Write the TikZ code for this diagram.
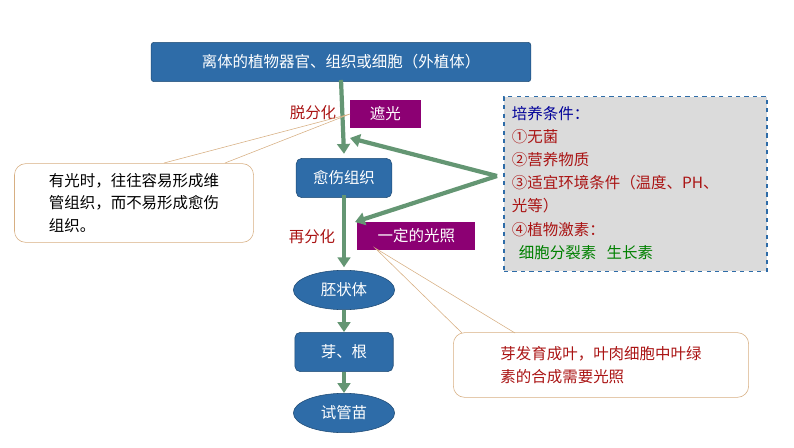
\documentclass[tikz,border=0pt]{standalone}
\usepackage{fontspec}
\setmainfont{Noto Sans CJK SC}
\usetikzlibrary{positioning,shapes,arrows.meta}
\definecolor{boxblue}{RGB}{46,108,168}
\definecolor{darkred}{RGB}{170,20,20}
\definecolor{flowgreen}{RGB}{100,150,115}
\definecolor{tipline}{RGB}{215,175,130}
\tikzset{
	every node/.style={font=\fontsize{11}{16}\selectfont},
	bluebox/.style={draw=boxblue!70!black,fill=boxblue,text=white,rounded corners=4pt,minimum height=28pt},
	blueoval/.style={ellipse,draw=boxblue!70!black,fill=boxblue,text=white,minimum width=72pt,minimum height=28pt},
	purplebox/.style={fill=violet!80!purple,text=white,anchor=west,minimum height=20pt,inner xsep=6pt},
	flow/.style={draw=flowgreen,line width=3pt,-{Triangle[length=7pt,width=9pt]}},
	callout/.style={draw=tipline,fill=white,rounded corners=8pt,align=left,inner sep=6pt},
}
\begin{document}
\begin{tikzpicture}[x=0.025cm,y=-0.025cm]
	\useasboundingbox (0,0) rectangle (794,447);

	% main chain..................
	\node [bluebox,minimum width=270pt,rounded corners=2pt] (top) at (341,62) {离体的植物器官、组织或细胞（外植体）};
	\node [bluebox,minimum width=68pt] (callus) at (344,178) {愈伤组织};
	\node [blueoval] (embryo) at (344,290) {胚状体};
	\node [bluebox,minimum width=70pt] (buds) at (344,352) {芽、根};
	\node [blueoval] (plantlet) at (344,413) {试管苗};

	\draw [flow] (top.south) ++(0,-2) -- ([yshift=3pt]callus.north);
	\draw [flow] (callus.south) ++(0,-3) -- ([yshift=2pt]embryo.north);
	\draw [flow] (embryo.south) -- (buds.north);
	\draw [flow] (buds.south) -- (plantlet.north);

	% labels..............................
	\node [text=darkred] (dediff) at (313,113) {脱分化};
	\node [purplebox,minimum width=50pt] (dark) at (350,114) {遮光};
	\node [text=darkred] (rediff) at (312,237) {再分化};
	\node [purplebox,minimum width=84pt] (light) at (357,236) {一定的光照};

	% conditions box...................
	\node [draw=boxblue,dashed,thick,fill=gray!28,minimum width=187pt,minimum height=124pt] (cond) at (635.5,184) {};
	\node [anchor=north west,align=left,text=darkred,font=\fontsize{11}{16.5}\selectfont] (condtext) at (507,101)
		{\textcolor{blue!60!black}{培养条件：}\\①无菌\\②营养物质\\③适宜环境条件（温度、PH、\\光等）\\④植物激素：\\
		\textcolor{green!50!black}{\ \ 细胞分裂素\ \ \ 生长素}};
	\coordinate (fork) at (497,176);
	\coordinate (hitA) at (350,138);
	\coordinate (hitB) at (355,222);
	\draw [flow] (fork) -- (hitA);
	\draw [flow] (fork) -- (hitB);

	% callouts..........................
	\coordinate (tipA) at (350,114);
	\node [callout,minimum width=170pt,minimum height=56pt] (noteA) at (134,203)
		{有光时，往往容易形成维\\管组织，而不易形成愈伤\\组织。};
	\draw [tipline] (164,163) -- (tipA) -- (225,163);
	\coordinate (tipB) at (375,248);
	\node [callout,minimum width=210pt,minimum height=46pt,text=darkred] (noteB) at (601,365)
		{芽发育成叶，叶肉细胞中叶绿\\素的合成需要光照};
	\draw [tipline] (462,333) -- (tipB) -- (515,333);
\end{tikzpicture}
\end{document}
